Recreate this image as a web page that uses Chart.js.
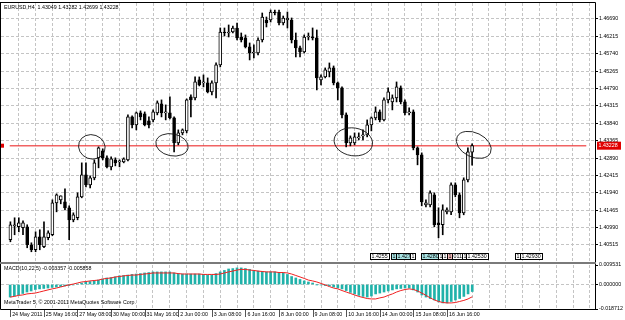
<!DOCTYPE html>
<html>
<head>
<meta charset="utf-8">
<script src="https://cdn.jsdelivr.net/npm/chart.js@4.4.1/dist/chart.umd.min.js"></script>
<style>
  html, body { margin: 0; padding: 0; background: #fff; }
  #wrap { position: relative; width: 625px; height: 320px; overflow: hidden; background: #fff; }
  #main { position: absolute; left: 0; top: 0; }
  #macd { position: absolute; left: 0; top: 262px; }
</style>
</head>
<body>
<div id="wrap">
  <canvas id="main" width="625" height="262"></canvas>
  <canvas id="macd" width="625" height="58"></canvas>
</div>
<script>
// EURUSD H4 candles (bar index = position in the arrays)
const opens = [1.40657,1.41039,1.41012,1.40985,1.41012,1.40521,1.40384,1.40739,1.40466,1.40712,
  1.40794,1.41667,1.41749,1.41694,1.41531,1.41203,1.41258,1.41831,1.42432,1.42159,
  1.42350,1.42896,1.43087,1.42896,1.42650,1.42841,1.42786,1.42786,1.42841,1.44015,
  1.43797,1.44124,1.44097,1.43906,1.43933,1.44124,1.44370,1.44124,1.44124,1.43988,
  1.43305,1.43578,1.43633,1.44561,1.44534,1.45025,1.44943,1.44943,1.44697,1.44943,
  1.45435,1.46335,1.46308,1.46335,1.46445,1.46199,1.46172,1.45926,1.45762,1.45762,
  1.46117,1.46663,1.46663,1.46881,1.46881,1.46581,1.46663,1.46663,1.46117,1.45899,
  1.45789,1.46199,1.46199,1.46172,1.45025,1.45107,1.45243,1.45353,1.44943,1.44807,
  1.44070,1.43305,1.43305,1.43442,1.43496,1.43524,1.43797,1.43988,1.44151,1.43933,
  1.44479,1.44424,1.44534,1.44807,1.44424,1.44124,1.44151,1.43169,1.42978,1.41613,
  1.41613,1.41886,1.41121,1.41067,1.41421,1.41421,1.42159,1.41886,1.41394,1.42295,
  1.43049];
const highs = [1.41148,1.41258,1.41258,1.41176,1.41067,1.40575,1.40875,1.40930,1.41148,1.40903,
  1.41749,1.41913,1.41858,1.42049,1.41585,1.41394,1.41940,1.42759,1.42759,1.42404,
  1.42841,1.43196,1.43141,1.42950,1.42923,1.42896,1.42841,1.42896,1.44070,1.44042,
  1.44151,1.44179,1.44151,1.44015,1.44206,1.44452,1.44479,1.44343,1.44561,1.44015,
  1.43660,1.43687,1.44506,1.44616,1.45107,1.45107,1.45162,1.45080,1.44998,1.45489,
  1.46445,1.46445,1.46527,1.46499,1.46581,1.46308,1.46254,1.46035,1.45981,1.46172,
  1.46854,1.46745,1.46936,1.46936,1.46936,1.46772,1.46881,1.46718,1.46308,1.45953,
  1.46254,1.46308,1.46445,1.46390,1.45162,1.45353,1.45489,1.45407,1.44970,1.44834,
  1.44124,1.43496,1.43578,1.43578,1.43660,1.43933,1.44015,1.44288,1.44206,1.44534,
  1.44807,1.44616,1.44970,1.44861,1.44479,1.44261,1.44206,1.43196,1.43032,1.41749,
  1.41995,1.41940,1.41531,1.41613,1.41531,1.42213,1.42213,1.41940,1.42350,1.43169,
  1.43282];
const lows = [1.40602,1.40794,1.40875,1.40794,1.40439,1.40330,1.40330,1.40384,1.40439,1.40657,
  1.40766,1.41421,1.41640,1.41476,1.40657,1.41148,1.41203,1.41804,1.42104,1.42077,
  1.42295,1.42623,1.42841,1.42623,1.42568,1.42677,1.42650,1.42759,1.42814,1.43715,
  1.43660,1.43933,1.43769,1.43715,1.43878,1.44070,1.44015,1.43933,1.43960,1.43059,
  1.43251,1.43524,1.43578,1.44015,1.44479,1.44861,1.44834,1.44670,1.44616,1.44534,
  1.45380,1.46226,1.46199,1.46308,1.46117,1.46062,1.45899,1.45571,1.45626,1.45708,
  1.46062,1.46472,1.46608,1.46800,1.46527,1.46527,1.46445,1.46035,1.45653,1.45653,
  1.45762,1.46117,1.46117,1.44752,1.44889,1.45080,1.45107,1.44889,1.44479,1.43988,
  1.43196,1.43223,1.43251,1.43387,1.43387,1.43469,1.43633,1.43933,1.43878,1.43906,
  1.44397,1.44206,1.44424,1.44370,1.44070,1.44070,1.43114,1.42705,1.41585,1.41558,
  1.41558,1.41012,1.40712,1.40794,1.41367,1.41340,1.41831,1.41258,1.41340,1.42240,
  1.42699];
const closes = [1.41067,1.41067,1.41121,1.41121,1.40521,1.40384,1.40739,1.40521,1.40739,1.40848,
  1.41667,1.41886,1.41858,1.41531,1.41203,1.41340,1.41831,1.42432,1.42159,1.42350,
  1.42759,1.43169,1.42896,1.42650,1.42868,1.42759,1.42814,1.42868,1.44015,1.43797,
  1.44124,1.44015,1.43797,1.43797,1.44151,1.44397,1.44124,1.44151,1.43988,1.43305,
  1.43578,1.43660,1.44479,1.44479,1.44970,1.44889,1.44970,1.44697,1.44943,1.45435,
  1.46335,1.46308,1.46335,1.46445,1.46172,1.46117,1.45926,1.45762,1.45789,1.46117,
  1.46745,1.46581,1.46881,1.46854,1.46581,1.46718,1.46718,1.46117,1.45899,1.45789,
  1.46199,1.46226,1.46172,1.45080,1.45107,1.45298,1.45353,1.44943,1.44807,1.44070,
  1.43305,1.43442,1.43469,1.43469,1.43524,1.43797,1.43988,1.44151,1.43933,1.44479,
  1.44697,1.44534,1.44834,1.44424,1.44124,1.44151,1.43169,1.42978,1.41694,1.41667,
  1.41940,1.41067,1.41067,1.41476,1.41476,1.42159,1.41886,1.41394,1.42295,1.43059,
  1.43228];

// MACD(10,22,5): main line (histogram) and signal line
const macdMain = [-0.0060,-0.0055,-0.0050,-0.0043,-0.0036,-0.0031,-0.0024,-0.0021,-0.0019,-0.0017,
  -0.0014,-0.0012,-0.0010,-0.0007,-0.0005,-0.0002,0.0002,0.0007,0.0012,0.0014,
  0.0017,0.0021,0.0026,0.0031,0.0033,0.0036,0.0041,0.0043,0.0045,0.0048,
  0.0050,0.0052,0.0055,0.0057,0.0060,0.0060,0.0060,0.0060,0.0060,0.0055,
  0.0052,0.0050,0.0050,0.0050,0.0050,0.0050,0.0048,0.0045,0.0045,0.0052,
  0.0060,0.0067,0.0074,0.0076,0.0079,0.0079,0.0076,0.0072,0.0067,0.0064,
  0.0062,0.0060,0.0060,0.0060,0.0057,0.0055,0.0048,0.0038,0.0031,0.0024,
  0.0017,0.0012,0.0007,-0.0001,-0.0002,-0.0005,-0.0007,-0.0012,-0.0017,-0.0021,
  -0.0029,-0.0038,-0.0045,-0.0052,-0.0057,-0.0060,-0.0055,-0.0045,-0.0041,-0.0036,
  -0.0031,-0.0026,-0.0021,-0.0019,-0.0017,-0.0017,-0.0026,-0.0036,-0.0050,-0.0060,
  -0.0067,-0.0074,-0.0083,-0.0088,-0.0088,-0.0081,-0.0074,-0.0067,-0.0057,-0.0045,
  -0.003357];
const macdSignal = [-0.0060,-0.0057,-0.0052,-0.0050,-0.0045,-0.0043,-0.0041,-0.0036,-0.0031,-0.0026,
  -0.0021,-0.0017,-0.0012,-0.0007,-0.0002,0.0002,0.0007,0.0012,0.0014,0.0017,
  0.0019,0.0021,0.0026,0.0029,0.0031,0.0036,0.0038,0.0041,0.0043,0.0045,
  0.0045,0.0048,0.0050,0.0052,0.0055,0.0055,0.0055,0.0055,0.0055,0.0055,
  0.0052,0.0050,0.0050,0.0050,0.0050,0.0050,0.0048,0.0048,0.0048,0.0048,
  0.0050,0.0055,0.0060,0.0064,0.0069,0.0072,0.0072,0.0069,0.0067,0.0064,
  0.0062,0.0060,0.0060,0.0060,0.0057,0.0057,0.0055,0.0050,0.0043,0.0036,
  0.0029,0.0021,0.0017,0.0012,0.0005,-0.0002,-0.0010,-0.0017,-0.0021,-0.0029,
  -0.0036,-0.0043,-0.0050,-0.0057,-0.0062,-0.0067,-0.0069,-0.0069,-0.0064,-0.0060,
  -0.0052,-0.0045,-0.0036,-0.0029,-0.0024,-0.0021,-0.0024,-0.0031,-0.0041,-0.0052,
  -0.0064,-0.0074,-0.0081,-0.0086,-0.0088,-0.0088,-0.0086,-0.0081,-0.0076,-0.0069,
  -0.005858];

// axis labels
const priceTicks = [1.40515,1.40990,1.41465,1.41940,1.42415,1.42890,1.43365,1.43840,1.44315,1.44790,1.45265,1.45740,1.46215,1.46690];
const timeLabelBars = [0,8,16,24,32,40,48,56,64,72,80,88,96,104];
const timeLabels = ["24 May 2011","25 May 16:00","27 May 08:00","30 May 00:00","31 May 16:00","2 Jun 00:00",
  "3 Jun 08:00","6 Jun 16:00","8 Jun 00:00","9 Jun 08:00","10 Jun 16:00","14 Jun 00:00","15 Jun 08:00","16 Jun 16:00"];
const macdTickLabels = ["-0.018712","0.000000","0.009531"];

// hand drawn ellipses on the chart: [bar, price, half-width in bars, half-height in price, tilt]
const ellipseMarks = [
  [19.4, 1.43196, 3.2, 0.0033, 0.35],
  [38.5, 1.43251, 3.9, 0.0030, 0.2],
  [81.7, 1.43333, 4.6, 0.0038, 0.15],
  [110.4, 1.43251, 4.4, 0.0033, 0.45]
];
// little order labels above the time axis: [bar, text, fill]
const orderTags = [
  [85.6, "1.4255", "#fff"], [90.7, "1", "#a8e4e4"], [91.9, "1.4270", "#a8e4e4"],
  [95.1, "1", "#fff"], [97.9, "1.4280", "#a8e4e4"], [101.8, "1", "#fff"], [102.8, "1", "#fff"],
  [104.1, "1.45", "#f2b8b8"], [105.3, "011", "#fff"], [107.7, "1", "#fff"],
  [108.6, "1.42530", "#fff"], [120.3, "1", "#fff"], [121.3, "1.42930", "#fff"]
];

const symbol = "EURUSD,H4";
const lastIdx = closes.length - 1;
const lastPrice = closes[lastIdx];

const barMin = -0.16, barMax = 137.2;
const priceMin = 1.40050, priceMax = 1.47127;
const macdMin = -0.0117, macdMax = 0.0093;
const GRID = "#c4c4c4";
const FONT = { family: "Liberation Sans, Arial, sans-serif", size: 5.3 };
const fontStr = "5.3px 'Liberation Sans', Arial, sans-serif";

const gridBars = [];
for (let b = 4; b <= 136; b += 4) gridBars.push(b);

const wickData = opens.map((o, i) => ({ x: i, y: [lows[i], highs[i]] }));
const bodyData = opens.map((o, i) => ({ x: i, y: [Math.min(o, closes[i]), Math.max(o, closes[i])] }));
const bodyColors = opens.map((o, i) => closes[i] >= o ? "#ffffff" : "#000000");

const mainDecor = {
  id: "mainDecor",
  afterDraw(chart) {
    const { ctx, chartArea: a, scales: { x, y } } = chart;
    ctx.save();
    ctx.strokeStyle = "#000";
    ctx.lineWidth = 1;
    ctx.beginPath();
    ctx.moveTo(0, 2.5); ctx.lineTo(a.right + 0.5, 2.5);
    ctx.moveTo(0.5, 2.5); ctx.lineTo(0.5, a.bottom);
    ctx.moveTo(a.right + 0.5, 2.5); ctx.lineTo(a.right + 0.5, a.bottom);
    ctx.stroke();

    ctx.font = fontStr;
    ctx.fillStyle = "#000";
    ctx.textBaseline = "middle";
    ctx.fillText(symbol + "  " + [opens[lastIdx], highs[lastIdx], lows[lastIdx], closes[lastIdx]].map(v => v.toFixed(5)).join(" "), 4, 8);

    // hand drawn circles
    ctx.strokeStyle = "#111";
    ctx.lineWidth = 0.9;
    const pxBar = x.getPixelForValue(1) - x.getPixelForValue(0);
    ellipseMarks.forEach(([b, p, rb, rp, rot]) => {
      const cx = x.getPixelForValue(b), cy = y.getPixelForValue(p);
      const ry = y.getPixelForValue(p - rp) - cy;
      ctx.beginPath();
      ctx.ellipse(cx, cy, rb * pxBar, ry, rot, 0, Math.PI * 2);
      ctx.stroke();
    });

    // current price marks
    const py = y.getPixelForValue(lastPrice);
    ctx.fillStyle = "#e00000";
    ctx.fillRect(1, py - 2, 3, 4);
    ctx.fillRect(a.right + 2, py - 4, 24, 8);
    ctx.fillStyle = "#fff";
    ctx.fillText(lastPrice.toFixed(5), a.right + 3.5, py);

    // order tags
    ctx.lineWidth = 1;
    ctx.strokeStyle = "#000";
    orderTags.forEach(([b, t, fill]) => {
      const tx = Math.round(x.getPixelForValue(b)) + 0.5;
      const w = Math.ceil(ctx.measureText(t).width) + 2;
      ctx.fillStyle = fill;
      ctx.fillRect(tx, 253.5, w, 6);
      ctx.strokeRect(tx, 253.5, w, 6);
      ctx.fillStyle = "#000";
      ctx.fillText(t, tx + 1, 256.7);
    });
    ctx.restore();
  }
};

new Chart(document.getElementById("main"), {
  type: "bar",
  data: {
    datasets: [
      { data: bodyData, backgroundColor: bodyColors, borderColor: "#000", borderWidth: 1,
        borderSkipped: false, barThickness: 3, minBarLength: 1, grouped: false, order: 0 },
      { data: wickData, backgroundColor: "#000", borderWidth: 0, barThickness: 1,
        grouped: false, order: 1 },
      { type: "line", data: [{ x: barMin, y: lastPrice }, { x: barMax, y: lastPrice }],
        borderColor: "rgba(238,60,60,0.8)", borderWidth: 1.6, pointRadius: 0, order: 2 }
    ]
  },
  options: {
    responsive: false,
    animation: false,
    devicePixelRatio: 1,
    layout: { padding: { left: 1, top: 3, right: 0, bottom: 0 } },
    plugins: { legend: { display: false }, tooltip: { enabled: false } },
    scales: {
      x: {
        type: "linear", min: barMin, max: barMax,
        afterBuildTicks: s => { s.ticks = gridBars.map(v => ({ value: v })); },
        afterFit: s => { s.height = 0; s.paddingLeft = 0; s.paddingRight = 0; },
        ticks: { display: false, autoSkip: false },
        grid: { color: GRID, drawTicks: false },
        border: { display: false, dash: [3, 2] }
      },
      y: {
        position: "right", min: priceMin, max: priceMax,
        afterBuildTicks: s => { s.ticks = priceTicks.map(v => ({ value: v })); },
        afterFit: s => { s.width = 30; s.paddingTop = 0; s.paddingBottom = 0; },
        ticks: { autoSkip: false, padding: 1, color: "#000", font: FONT, callback: v => v.toFixed(5) },
        grid: { color: GRID, tickColor: "#000", tickLength: 3 },
        border: { display: false, dash: [3, 2] }
      }
    }
  },
  plugins: [mainDecor]
});

const macdDecor = {
  id: "macdDecor",
  afterDraw(chart) {
    const { ctx, chartArea: a, scales: { x } } = chart;
    ctx.save();
    ctx.strokeStyle = "#7a7a7a";
    ctx.lineWidth = 2;
    ctx.beginPath();
    ctx.moveTo(0, 1); ctx.lineTo(a.right + 1, 1);
    ctx.stroke();
    ctx.strokeStyle = "#000";
    ctx.lineWidth = 1;
    ctx.beginPath();
    ctx.moveTo(0.5, 2); ctx.lineTo(0.5, a.bottom + 0.5);
    ctx.lineTo(a.right + 0.5, a.bottom + 0.5);
    ctx.lineTo(a.right + 0.5, 2);
    ctx.stroke();
    ctx.strokeStyle = "#555";
    ctx.beginPath();
    timeLabelBars.forEach(b => {
      const tx = Math.round(x.getPixelForValue(b)) + 0.5;
      ctx.moveTo(tx, a.bottom + 1); ctx.lineTo(tx, a.bottom + 8);
    });
    ctx.stroke();
    ctx.font = fontStr;
    ctx.fillStyle = "#000";
    ctx.textBaseline = "middle";
    ctx.fillText("MACD(10,22,5) " + macdMain[lastIdx].toFixed(6) + " " + macdSignal[lastIdx].toFixed(6), 4, 7);
    ctx.fillText("MetaTrader 5, \u00a9 2001-2011 MetaQuotes Software Corp.", 4, 41);
    ctx.restore();
  }
};

new Chart(document.getElementById("macd"), {
  type: "bar",
  data: {
    datasets: [
      { type: "line", data: macdSignal.map((v, i) => ({ x: i, y: v })), borderColor: "#f02020",
        borderWidth: 1, pointRadius: 0, tension: 0, order: 0 },
      { data: macdMain.map((v, i) => ({ x: i, y: v })), backgroundColor: "#20b2aa",
        borderWidth: 0, barThickness: 2, grouped: false, order: 1 }
    ]
  },
  options: {
    responsive: false,
    animation: false,
    devicePixelRatio: 1,
    layout: { padding: { left: 1, top: 3, right: 0, bottom: 0 } },
    plugins: { legend: { display: false }, tooltip: { enabled: false } },
    scales: {
      x: {
        type: "linear", min: barMin, max: barMax,
        afterBuildTicks: s => { s.ticks = [0].concat(gridBars).map(v => ({ value: v })); },
        afterFit: s => { s.height = 11; s.paddingLeft = 0; s.paddingRight = 0; },
        ticks: {
          autoSkip: false, maxRotation: 0, minRotation: 0, align: "start", labelOffset: 2, padding: 2,
          color: "#000", font: FONT,
          callback: v => { const k = timeLabelBars.indexOf(v); return k >= 0 ? timeLabels[k] : ""; }
        },
        grid: { color: c => (c.tick && c.tick.value === 0) ? "rgba(0,0,0,0)" : GRID, drawTicks: false },
        border: { display: false, dash: [3, 2] }
      },
      y: {
        position: "right", min: macdMin, max: macdMax,
        afterBuildTicks: s => { s.ticks = [macdMin, 0, macdMax].map(v => ({ value: v })); },
        afterFit: s => { s.width = 30; s.paddingTop = 0; s.paddingBottom = 0; },
        ticks: { autoSkip: false, padding: 1, color: "#000", font: FONT, callback: (v, i) => macdTickLabels[i] },
        grid: { color: c => (c.tick && c.tick.value === 0) ? GRID : "rgba(0,0,0,0)", tickColor: "#000", tickLength: 3 },
        border: { display: false, dash: [3, 2] }
      }
    }
  },
  plugins: [macdDecor]
});
</script>
</body>
</html>
